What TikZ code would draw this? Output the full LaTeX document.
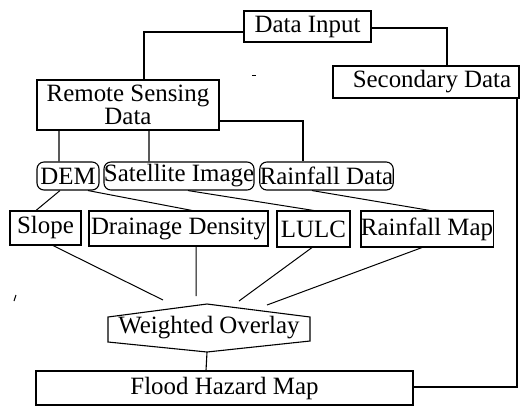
\documentclass[tikz,border=0pt]{standalone}
\usepackage{fontspec}
\setmainfont{Liberation Serif}
\begin{document}
\begin{tikzpicture}[x=1bp,y=-1bp,
  every node/.style={font=\fontsize{25}{23}\selectfont, inner sep=0pt, align=center},
  box/.style={draw, line width=1.1bp},
  rbox/.style={draw, line width=1.1bp, rounded corners=7bp},
  link/.style={line width=1.1bp},
  thin link/.style={line width=1bp}]
\useasboundingbox (0,0) rectangle (520,406);

\node[box, minimum width=127bp, minimum height=31bp] (di) at (307.5,26.5) {\raisebox{-1.5bp}{Data Input}};
\node[box, minimum width=182bp, minimum height=50bp] (rs) at (128,105) {Remote Sensing\\Data};
\node[box, minimum width=186bp, minimum height=32bp] (sd) at (426,82) {\hspace*{12bp}Secondary Data};

\node[rbox, minimum width=62bp, minimum height=28bp] (dem) at (68,176) {DEM};
\node[rbox, minimum width=148bp, minimum height=28bp] (sat) at (179,176) {Satellite Image};
\node[rbox, minimum width=133bp, minimum height=28bp] (rd) at (326.5,176) {Rainfall Data};

\node[box, minimum width=71bp, minimum height=34bp] (slope) at (45.5,228) {Slope};
\node[box, minimum width=179bp, minimum height=35bp] (dd) at (178.5,228.5) {Drainage Density};
\node[box, minimum width=73bp, minimum height=36bp] (lulc) at (313.5,229) {LULC};
\node[box, minimum width=132bp, minimum height=36bp] (rm) at (427,229) {Rainfall Map};

\node[minimum width=202bp, minimum height=48bp] (wo) at (209,328) {Weighted Overlay};
\draw[link] (108,317) -- (207,304) -- (310,317) -- (310,341) -- (207,352) -- (108,342) -- cycle;
\coordinate (wobot) at (207,352);

\node[box, minimum width=377bp, minimum height=34bp] (fhm) at (224.5,388) {Flood Hazard Map};

\coordinate (w1) at (163,300);
\coordinate (w2) at (196,296);
\coordinate (w3) at (239,301);
\coordinate (w4) at (267,305);

% tree connectors
\draw[link] ([yshift=-5.5bp]di.west) -| ([xshift=16bp]rs.north);
\draw[link] ([yshift=-1.5bp]di.east) -| ([xshift=21bp]sd.north);
\draw[link] ([yshift=-16bp]rs.east) -| ([xshift=-23.5bp]rd.north);
\draw[link] ([xshift=-69bp]rs.south) -- ([xshift=-9bp]dem.north);
\draw[link] ([xshift=21bp]rs.south) -- ([xshift=-30bp]sat.north);

\draw[thin link] ([xshift=-8bp]dem.south) -- ([xshift=-9.5bp]slope.north);
\draw[thin link] ([xshift=20bp]dem.south) -- ([xshift=13.5bp]dd.north);
\draw[thin link] ([xshift=9bp]sat.south) -- (lulc.north);
\draw[thin link] ([xshift=-14.5bp]rd.south) -- ([xshift=3bp]rm.north);

\draw[thin link] ([xshift=7.5bp]slope.south) -- (w1);
\draw[thin link] ([xshift=17.5bp]dd.south) -- (w2);
\draw[thin link] ([xshift=-1.5bp]lulc.south) -- (w3);
\draw[thin link] ([xshift=-5bp]rm.south) -- (w4);

\draw[link] (wobot) -- ([xshift=-18.5bp]fhm.north);
\draw[link] ([yshift=1bp]fhm.east) -| ([xshift=91bp]sd.south);

% stray marks
\draw[line width=1bp] (252,75) -- (256,75);
\draw[line width=1bp] (14,301) -- (16,295);
\end{tikzpicture}
\end{document}
